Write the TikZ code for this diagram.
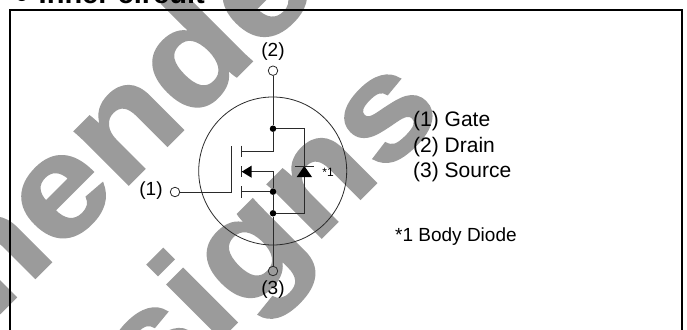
\documentclass[tikz,border=0pt]{standalone}
\usepackage{fontspec}
\setmainfont{Liberation Sans}
\newfontfamily\wmfont[FakeStretch=1.12,FakeBold=1.5]{Liberation Sans Bold}
\definecolor{wm}{HTML}{9B9B9B}
\definecolor{ink}{HTML}{2A2A2A}
\tikzset{
  wire/.style={draw=ink,line width=1pt},
  term/.style={circle,draw=ink,line width=0.8pt,minimum size=9.5pt,inner sep=0pt},
  jct/.style={circle,fill=black,minimum size=6.5pt,inner sep=0pt},
  lab/.style={inner sep=0pt,anchor=base west,font=\fontsize{21}{21}\selectfont},
  clab/.style={inner sep=0pt,font=\fontsize{19}{19}\selectfont},
  wmark/.style={text=wm,rotate=45,inner sep=0pt,font=\fontsize{143}{143}\wmfont,anchor=base west}
}
\begin{document}
\begin{tikzpicture}[x=1pt,y=-1pt]
\useasboundingbox (0,0) rectangle (687,329);
\clip (0,0) rectangle (687,329);
\fill[white] (0,0) rectangle (687,329);
% watermark
\node[wmark] (wa) at (-43,356) {mended};
\node[wmark] (wb) at (150,409) {signs};
% title and frame
\node[inner sep=0pt,anchor=base west,font=\fontsize{29}{29}\selectfont\bfseries] (title) at (13,3.5) {● Inner circuit};
\draw[line width=2pt] (10,335) -- (10,10) -- (682,10) -- (682,335);
% circuit
\draw[draw=ink,line width=0.8pt] (272.7,171) circle (74);
\node[term] (t2) at (273,70.7) {};
\node[term] (t1) at (175,192) {};
\node[term] (t3) at (273,271) {};
\node[jct] (jd) at (273,128.7) {};
\node[jct] (js) at (273,191.7) {};
\node[jct] (jb) at (273,213.3) {};
\coordinate (gt) at (231,146);
\coordinate (gb) at (231,192);
\coordinate (dch) at (241.7,151);
\coordinate (dcr) at (273,151);
\coordinate (dt) at (241.7,145.7);
\coordinate (db) at (241.7,157);
\coordinate (st) at (241.7,186);
\coordinate (sb) at (241.7,198);
\coordinate (sch) at (241.7,191.7);
\coordinate (mt) at (241.7,166);
\coordinate (mb) at (241.7,177);
\coordinate (tip) at (241.7,171.7);
\coordinate (mr) at (273,171.7);
\coordinate (dtr) at (304.3,128.7);
\coordinate (dbr) at (304.3,213.3);
\draw[wire] (t2) -- (jd) -- (dcr) -- (dch);
\draw[wire] (dt) -- (db);
\draw[wire] (st) -- (sb);
\draw[wire] (mt) -- (mb);
\draw[wire] (t1) -- (gb) -- (gt);
\draw[wire] (sch) -- (js);
\draw[wire] (tip) -- (mr) -- (js) -- (jb) -- (t3);
\draw[wire] (jd) -- (dtr) -- (dbr) -- (jb);
\fill[black] (241.7,171.7) -- (251.5,165.7) -- (251.5,177.7) -- cycle;
\fill[black] (304.3,166) -- (312,177) -- (296.7,177) -- cycle;
\draw[wire] (295.3,166) -- (314,166);
% labels
\node[clab] (l2) at (273,52) {(2)};
\node[clab] (l1) at (151,191) {(1)};
\node[clab] (l3) at (273,290) {(3)};
\node[inner sep=0pt,font=\fontsize{12}{12}\selectfont] (star) at (328,172.5) {*1};
\node[lab] (lg) at (413,126) {(1) Gate};
\node[lab] (ld) at (413,152) {(2) Drain};
\node[lab] (ls) at (413,177) {(3) Source};
\node[inner sep=0pt,anchor=base west,font=\fontsize{19}{19}\selectfont] (bd) at (395,241) {*1 Body Diode};
\end{tikzpicture}
\end{document}
